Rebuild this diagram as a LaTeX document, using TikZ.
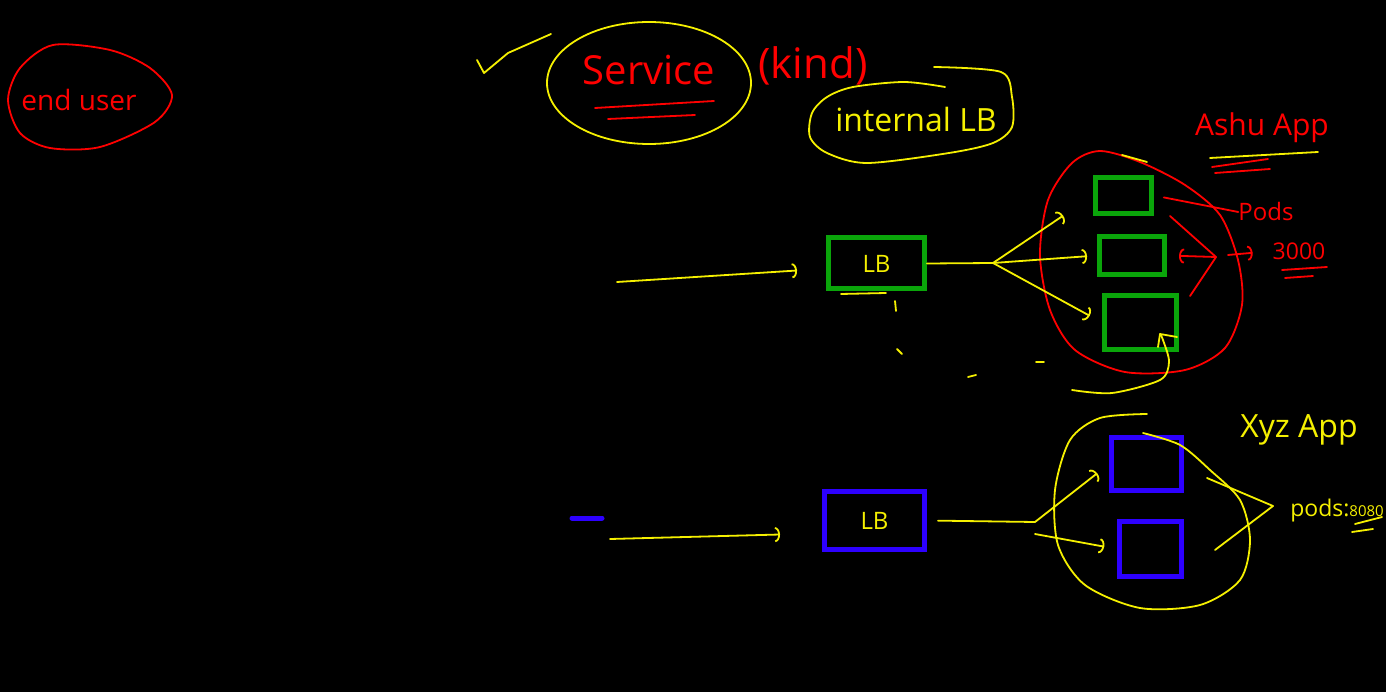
\documentclass[tikz,border=0pt]{standalone}
\usepackage{fontspec}
\setmainfont{Open Sans}
\usetikzlibrary{arrows.meta}
\definecolor{penred}{RGB}{255,0,0}
\definecolor{penyellow}{RGB}{245,240,0}
\definecolor{podgreen}{RGB}{10,165,10}
\definecolor{lbblue}{RGB}{45,0,255}

\begin{document}
\begin{tikzpicture}[x=1pt,y=-1pt,>={Arc Barb[length=5pt,width=15pt]},
  yel/.style={draw=penyellow,line width=1.8pt,line cap=round,line join=round},
  ink/.style={draw=penred,line width=1.8pt,line cap=round,line join=round},
  box/.style={draw=#1,line width=5pt,inner sep=0pt,text=penyellow,font=\fontsize{24}{24}\selectfont},
  hand/.style={font=\fontsize{#1}{#1}\selectfont,inner sep=0pt}]
  \fill[black] (0,0) rectangle (1386,692);
  \useasboundingbox (0,0) rectangle (1386,692);

  % end user
  \draw[ink] plot[smooth cycle] coordinates {(53,45) (110,50) (150,68) (172,95) (155,122) (100,147) (50,148) (20,133) (8,100) (20,68)};
  \node[hand=28,text=penred] (enduser) at (79,100) {end user};

  % service (kind)
  \draw[yel] (477,60) -- (484,73) -- (508,53) -- (551,34);
  \draw[yel] (649,83) ellipse [x radius=102, y radius=61];
  \node[hand=40,text=penred] (service) at (649,70) {Service};
  \draw[ink] (595,108) -- (714,101);
  \draw[ink] (608,119) -- (695,115);
  \node[hand=42,text=penred] (kind) at (813,66) {(kind)};

  % internal LB
  \draw[yel] plot[smooth] coordinates {(934,67) (1001,72) (1012,97) (1012,127) (993,143) (949,153) (867,163) (827,153) (810,137) (812,113) (827,97) (853,87) (904,82) (945,87)};
  \node[hand=32,text=penyellow] (internal) at (916,120) {internal LB};

  % Ashu App
  \node[hand=30,text=penred] (ashu) at (1262,128) {Ashu App};
  \draw[yel] (1210,158) -- (1318,152);
  \draw[ink] (1212,167) -- (1268,159);
  \draw[ink] (1215,173) -- (1270,169);
  \draw[ink] plot[smooth cycle] coordinates {(1100,151) (1140,162) (1185,185) (1220,215) (1238,260) (1242,305) (1225,348) (1185,370) (1125,372) (1075,350) (1050,310) (1040,255) (1048,200) (1072,163)};
  \draw[yel] (1122,155) -- (1147,162);

  % green pods
  \node[box=podgreen,minimum width=96pt,minimum height=51pt] (lb1) at (876.5,263.5) {LB};
  \node[box=podgreen,minimum width=56pt,minimum height=36pt] (pod1) at (1123.5,195.5) {};
  \node[box=podgreen,minimum width=65pt,minimum height=38pt] (pod2) at (1132,255.5) {};
  \node[box=podgreen,minimum width=72pt,minimum height=54pt] (pod3) at (1140.5,322.5) {};
  \coordinate (user1) at (617,282);
  \coordinate (split1) at (993,263);
  \draw[yel,->] (user1) -- ([xshift=-29pt,yshift=-7pt]lb1.west);
  \draw[yel] (lb1.east) -- (split1);
  \draw[yel,->,shorten >=36pt] (split1) -- (pod1.west);
  \draw[yel,->,shorten >=10pt] (split1) -- (pod2.west);
  \draw[yel,->,shorten >=14pt] (split1) -- (pod3.west);
  \draw[yel] (841,294) -- (886,293);
  \draw[yel] plot[smooth] coordinates {(1072,390) (1112,393) (1160,380) (1169,362) (1163,340) (1160,334)} -- (1177,337);
  \draw[yel] (1158,347) -- (1160,334);
  \draw[yel] (895,301) -- (896,311);
  \draw[yel] (897,349) -- (902,354);
  \draw[yel] (968,377) -- (976,375);
  \draw[yel] (1036,362) -- (1044,362);

  % pods 3000
  \node[hand=24,text=penred] (podsred) at (1266,212) {Pods};
  \node[hand=23,text=penred] (port1) at (1299,251) {3000};
  \coordinate (brk1) at (1216,257);
  \draw[ink,shorten <=10pt] (pod1.east) -- (podsred.west);
  \draw[ink] (1170,216) -- (brk1) -- (1190,296);
  \draw[ink,->,shorten >=12pt] (brk1) -- (pod2.east);
  \draw[ink,->,shorten >=20pt] (1228,255) -- (port1.west);
  \draw[ink] (1282,270) -- (1327,267);
  \draw[ink] (1285,278) -- (1313,276);

  % blue pods
  \draw[lbblue,line width=5pt,line cap=round] (572,518) -- (602,518);
  \node[box=lbblue,minimum width=100pt,minimum height=58pt] (lb2) at (874.5,520.5) {LB};
  \node[box=lbblue,minimum width=70pt,minimum height=53pt] (podA) at (1146.5,464) {};
  \node[box=lbblue,minimum width=62pt,minimum height=55pt] (podB) at (1150.5,549) {};
  \coordinate (user2) at (610,539);
  \coordinate (split2) at (1035,522);
  \draw[yel,->] (user2) -- ([xshift=-42pt,yshift=-14pt]lb2.west);
  \draw[yel,shorten <=11pt] (lb2.east) -- (split2);
  \draw[yel,->,shorten >=15pt] (split2) -- (podA.west);
  \draw[yel,->,shorten >=13pt] ([yshift=-12pt]split2) -- (podB.west);
  \draw[yel] plot[smooth] coordinates {(1147,414) (1100,418) (1070,440) (1055,490) (1058,545) (1085,585) (1140,608) (1200,605) (1240,580) (1250,540) (1240,500) (1210,470) (1180,445) (1143,433)};

  % Xyz App
  \node[hand=32,text=penyellow] (xyz) at (1299,430) {Xyz App};
  \coordinate (brk2) at (1273,506);
  \draw[yel] (1207,478) -- (brk2) -- (1215,550);
  \node[hand=23,text=penyellow] (pods8080) at (1337,511) {pods:{\fontsize{15}{15}\selectfont 8080}};
  \draw[yel] (1355,524) -- (1382,517);
  \draw[yel] (1352,532) -- (1373,529);
\end{tikzpicture}
\end{document}
